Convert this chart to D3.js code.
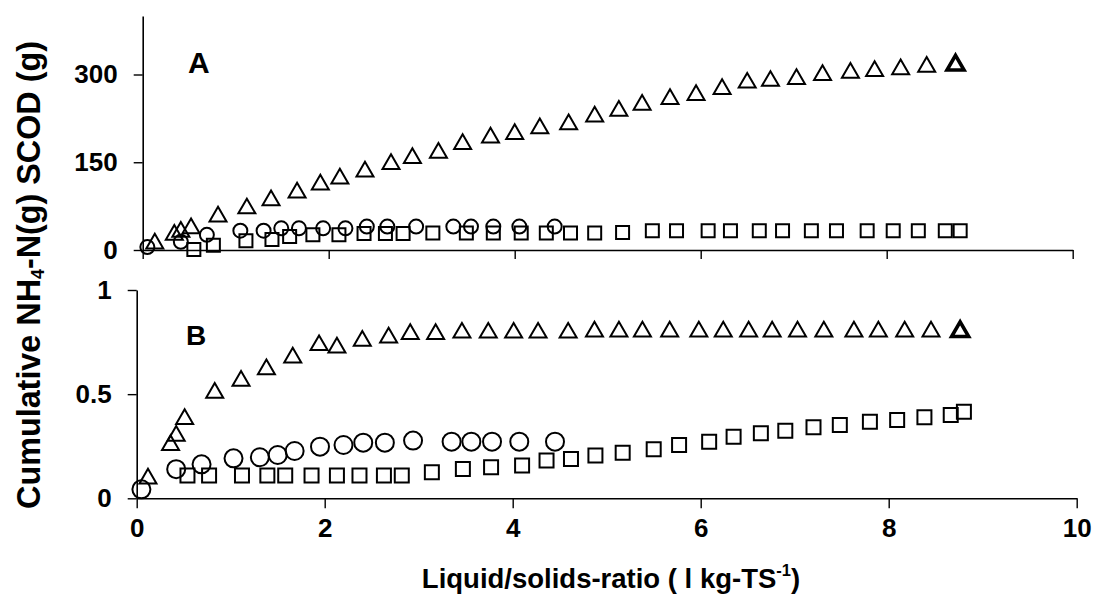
<!DOCTYPE html>
<html><head><meta charset="utf-8">
<script src="https://cdn.jsdelivr.net/npm/d3@7"></script>
<style>
html,body{margin:0;padding:0;background:#fff;}
svg{display:block;font-family:"Liberation Sans",Arial,sans-serif;}
</style></head>
<body>
<svg id="c" width="1095" height="597"></svg>
<script>
// ---- Data ----
// Panel A: SCOD (g)
const aTriX = [0.13,0.34,0.41,0.52,0.81,1.12,1.38,1.66,1.91,2.12,2.39,2.67,2.90,3.18,3.44,3.74,4.00,4.27,4.58,4.86,5.12,5.37,5.67,5.95,6.23,6.50,6.75,7.03,7.31,7.61,7.87,8.15,8.43,8.74];
const aTriY = [11,26,31,37,57,71,85,98,112,122,134,147,157,166,181,192,198,208,215,228,238,248,258,265,275,286,289,292,299,303,306,309,313,316];
const aCirX = [0.05,0.41,0.69,1.05,1.30,1.49,1.68,1.94,2.18,2.41,2.63,2.94,3.34,3.53,3.77,4.05,4.43];
const aCirY = [5,14,26,33,33,37,37,37,37,40,40,40,40,40,40,40,40];
const aSqX = [0.55,0.76,1.11,1.39,1.58,1.83,2.11,2.38,2.61,2.80,3.12,3.48,3.77,4.07,4.34,4.60,4.86,5.16,5.48,5.74,6.08,6.32,6.63,6.88,7.19,7.46,7.79,8.07,8.34,8.63,8.79];
const aSqY = [1,8,16,18,23,26,26,28,28,28,29,29,29,29,29,29,29,30,33,33,33,33,33,33,33,33,33,33,33,33,33];
// Panel B: NH4-N (g)
const bTriX = [0.12,0.36,0.42,0.51,0.83,1.11,1.38,1.66,1.94,2.13,2.40,2.68,2.91,3.18,3.46,3.74,4.01,4.27,4.59,4.87,5.13,5.38,5.67,5.98,6.24,6.51,6.76,7.03,7.31,7.63,7.89,8.17,8.45,8.76];
const bTriY = [0.095,0.255,0.30,0.38,0.506,0.564,0.619,0.676,0.735,0.724,0.756,0.772,0.788,0.788,0.795,0.795,0.795,0.795,0.795,0.80,0.80,0.80,0.80,0.80,0.80,0.80,0.80,0.80,0.80,0.80,0.80,0.80,0.80,0.80];
const bCirX = [0.05,0.42,0.69,1.03,1.31,1.50,1.68,1.95,2.20,2.41,2.64,2.94,3.35,3.56,3.78,4.07,4.45];
const bCirY = [0.043,0.14,0.163,0.192,0.197,0.208,0.227,0.248,0.256,0.267,0.267,0.277,0.272,0.272,0.272,0.272,0.272];
const bSqX = [0.54,0.77,1.12,1.39,1.58,1.86,2.13,2.37,2.63,2.82,3.14,3.47,3.77,4.10,4.36,4.62,4.88,5.17,5.50,5.77,6.09,6.35,6.64,6.90,7.20,7.48,7.80,8.09,8.38,8.66,8.80];
const bSqY = [0.109,0.109,0.109,0.109,0.109,0.109,0.109,0.109,0.109,0.109,0.125,0.141,0.149,0.157,0.181,0.189,0.205,0.219,0.236,0.256,0.272,0.296,0.312,0.324,0.341,0.352,0.368,0.376,0.389,0.400,0.416];

const xTicks = [0,2,4,6,8,10];
const aYTicks = [0,150,300];
const bYTicks = [0,0.5,1];
const xTickLabels = ["0","2","4","6","8","10"];
const aYTickLabels = ["0","150","300"];
const bYTickLabels = ["0","0.5","1"];

// ---- Layout ----
const svg = d3.select("#c");
const xA = d3.scaleLinear().domain([0,10]).range([142.7,1072.7]);
const yA = d3.scaleLinear().domain([0,400]).range([250,16]);
const xB = d3.scaleLinear().domain([0,10]).range([136.7,1076.7]);
const yB = d3.scaleLinear().domain([0,1]).range([498.3,290]);

function styleAxis(g){
  g.selectAll("path.domain").attr("stroke","#000").attr("stroke-width",1.6);
  g.selectAll(".tick line").attr("stroke","#000").attr("stroke-width",1.4);
  g.selectAll(".tick text").attr("fill","#000").attr("font-size",26).attr("font-weight","bold")
    .attr("font-family","'Liberation Sans',Arial,sans-serif");
}

// Panel A axes
svg.append("g").attr("transform",`translate(0,${yA(0)})`)
  .call(d3.axisBottom(xA).tickValues(xTicks).tickSize(9).tickSizeOuter(0).tickFormat(""))
  .call(styleAxis);
svg.append("g").attr("transform",`translate(${xA(0)},0)`)
  .call(d3.axisLeft(yA).tickValues(aYTicks).tickSize(9).tickSizeOuter(0).tickPadding(16)
    .tickFormat((d,i)=>aYTickLabels[i]))
  .call(styleAxis);

// Panel B axes
svg.append("g").attr("transform",`translate(0,${yB(0)})`)
  .call(d3.axisBottom(xB).tickValues(xTicks).tickSize(10).tickSizeOuter(0).tickPadding(10)
    .tickFormat((d,i)=>xTickLabels[i]))
  .call(styleAxis);
svg.append("g").attr("transform",`translate(${xB(0)},0)`)
  .call(d3.axisLeft(yB).tickValues(bYTicks).tickSize(9).tickSizeOuter(0).tickPadding(16)
    .tickFormat((d,i)=>bYTickLabels[i]))
  .call(styleAxis);

// ---- Markers ----
function drawSeries(xs, ys, xs_, ys_, type, size, sw, boldLast){
  const sym = d3.symbol().type(type).size(size);
  const pts = xs.map((x,i)=>[x, ys[i]]);
  svg.append("g").selectAll("path").data(pts).join("path")
    .attr("d", sym)
    .attr("transform", d=>`translate(${xs_(d[0])},${ys_(d[1])})`)
    .attr("fill","none").attr("stroke","#000")
    .attr("stroke-width",(d,i)=> (boldLast && i===pts.length-1) ? 3.6 : sw);
}
const triArea = 125, sqA = 13*13, sqB = 14*14;
drawSeries(aSqX, aSqY, xA, yA, d3.symbolSquare, sqA, 2, false);
drawSeries(aCirX, aCirY, xA, yA, d3.symbolCircle, Math.PI*7*7, 2, false);
drawSeries(aTriX, aTriY, xA, yA, d3.symbolTriangle, triArea, 2, true);
drawSeries(bSqX, bSqY, xB, yB, d3.symbolSquare, sqB, 2, false);
drawSeries(bCirX, bCirY, xB, yB, d3.symbolCircle, Math.PI*9*9, 2, false);
drawSeries(bTriX, bTriY, xB, yB, d3.symbolTriangle, triArea, 2, true);

// ---- Text ----
svg.append("text").attr("x",188).attr("y",73).attr("font-size",30).attr("font-weight","bold").text("A");
svg.append("text").attr("x",186).attr("y",345).attr("font-size",28).attr("font-weight","bold").text("B");

// x-axis title
const xt = svg.append("text").attr("x",611).attr("y",588).attr("text-anchor","middle")
  .attr("font-size",27.5).attr("font-weight","bold");
xt.append("tspan").text("Liquid/solids-ratio ( l kg-TS");
xt.append("tspan").attr("font-size","0.6em").attr("dy","-0.75em").text("-1");
xt.append("tspan").attr("dy","0.45em").text(")");

// y-axis title
const yt = svg.append("text").attr("transform","translate(40,275) rotate(-90)")
  .attr("text-anchor","middle").attr("font-size",30).attr("font-weight","bold");
yt.append("tspan").text("Cumulative NH");
yt.append("tspan").attr("font-size","0.55em").attr("dy","0.25em").text("4");
yt.append("tspan").attr("dy","-0.14em").text("-N(g) SCOD (g)");
const len = yt.node().getComputedTextLength();
yt.attr("font-size", 30*468/len);
</script>
</body></html>
